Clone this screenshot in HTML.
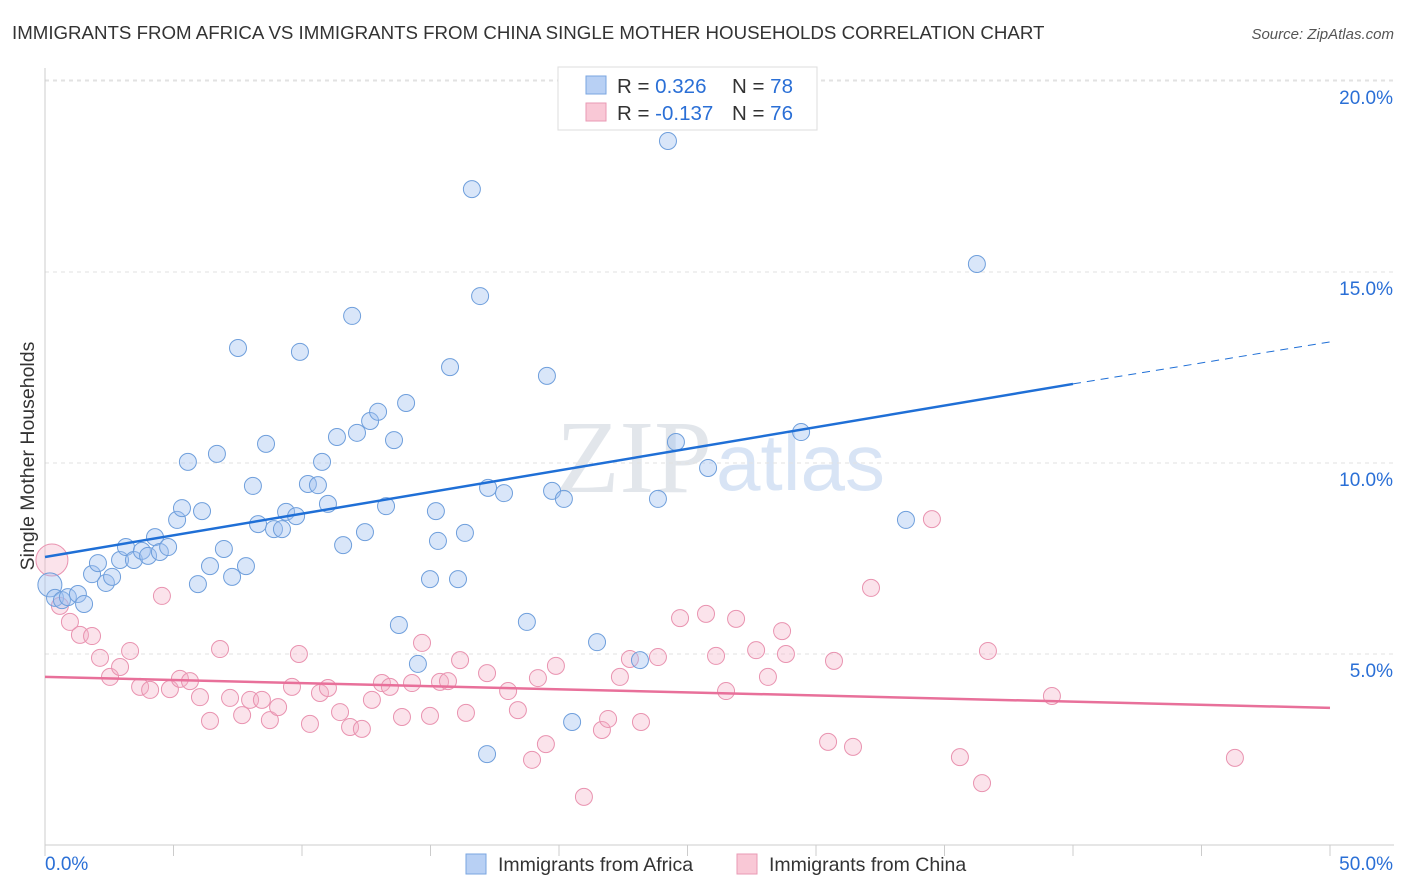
<!DOCTYPE html>
<html><head><meta charset="utf-8">
<style>
body{margin:0;background:#fff;font-family:"Liberation Sans",sans-serif;}
#wrap{position:relative;width:1406px;height:892px;overflow:hidden;}
</style></head>
<body>
<div id="wrap">
<svg id="chart" width="1406" height="892" xmlns="http://www.w3.org/2000/svg">
<text x="12" y="39" font-size="18.7" fill="#333">IMMIGRANTS FROM AFRICA VS IMMIGRANTS FROM CHINA SINGLE MOTHER HOUSEHOLDS CORRELATION CHART</text>
<text x="1394" y="39" font-size="15" fill="#555" font-style="italic" text-anchor="end">Source: ZipAtlas.com</text>
<text x="556" y="492" font-size="104" fill="#ccd3dc" font-family="Liberation Serif,serif" opacity="0.55">ZIP</text>
<text x="716" y="490" font-size="80" fill="#b9cfee" opacity="0.55">atlas</text>
<g id="grid"></g>
<g id="axes"></g>
<g id="marks"></g>
<text transform="translate(34,456) rotate(-90)" font-size="19.5" fill="#333" text-anchor="middle">Single Mother Households</text>
<g>
<rect x="558" y="67" width="259" height="63" fill="#fff" stroke="#ddd"/>
<rect x="586" y="76" width="20" height="18" fill="#b8d0f4" stroke="#7aa6e0"/>
<rect x="586" y="103" width="20" height="18" fill="#f9c8d6" stroke="#e99ab4"/>
<text x="617" y="93" font-size="20.5" fill="#333">R = <tspan fill="#2a6fd6">0.326</tspan><tspan x="732">N = </tspan><tspan fill="#2a6fd6">78</tspan></text>
<text x="617" y="120" font-size="20.5" fill="#333">R = <tspan fill="#2a6fd6">-0.137</tspan><tspan x="732">N = </tspan><tspan fill="#2a6fd6">76</tspan></text>
</g>
<g>
<rect x="466" y="854" width="20" height="20" fill="#b8d0f4" stroke="#7aa6e0"/>
<text x="498" y="871" font-size="19.5" fill="#333">Immigrants from Africa</text>
<rect x="737" y="854" width="20" height="20" fill="#f9c8d6" stroke="#e99ab4"/>
<text x="769" y="871" font-size="19.5" fill="#333">Immigrants from China</text>
</g>
</svg>
</div>
<script>
const africaX=[0.19,0.39,0.66,0.89,1.28,1.52,1.83,2.06,2.37,2.61,2.92,3.15,3.46,3.77,4.01,4.28,4.47,4.79,5.14,5.33,5.56,6.11,5.95,6.42,6.69,6.96,7.28,7.51,7.82,8.09,8.29,8.60,8.91,9.22,9.38,9.77,9.92,10.23,10.62,10.78,11.01,11.36,11.60,11.95,12.14,12.45,12.65,12.96,13.27,13.58,13.77,14.05,14.51,14.98,15.21,15.29,15.76,16.07,16.34,16.61,16.93,17.24,17.20,17.86,18.75,19.53,19.73,20.19,20.51,21.48,23.15,23.85,24.24,24.55,25.80,29.42,33.50,36.26];
const africaY=[6.81,6.47,6.41,6.49,6.57,6.31,7.09,7.38,6.86,7.02,7.46,7.80,7.46,7.70,7.57,8.06,7.67,7.80,8.51,8.82,10.03,8.74,6.83,7.30,10.24,7.75,7.02,13.01,7.30,9.40,8.40,10.50,8.27,8.27,8.72,8.61,12.91,9.45,9.42,10.03,8.93,10.68,7.85,13.85,10.79,8.19,11.10,11.34,8.87,10.60,5.76,11.57,4.74,6.96,8.74,7.96,12.51,6.96,8.17,17.17,14.37,9.35,2.38,9.21,5.84,12.28,9.27,9.06,3.22,5.31,4.84,9.06,18.43,10.55,9.87,10.81,8.51,15.21];
const chinaX=[0.27,0.58,0.97,1.36,1.83,2.14,2.53,2.92,3.31,3.70,4.09,4.55,4.86,5.25,5.64,6.03,6.42,6.81,7.20,7.67,7.98,8.44,8.75,9.07,9.61,9.88,10.31,10.70,11.01,11.48,11.87,12.33,12.72,13.11,13.42,13.89,14.28,14.67,14.98,15.37,15.68,16.15,16.38,17.20,18.02,18.40,18.95,19.18,19.49,19.88,20.97,21.67,21.91,22.37,22.76,23.19,23.85,24.71,25.72,26.11,26.50,26.89,27.67,28.13,28.68,28.83,30.47,30.70,31.44,32.14,34.51,35.60,36.46,36.69,39.18,46.30];
const chinaY=[7.46,6.26,5.84,5.50,5.47,4.90,4.40,4.66,5.08,4.14,4.06,6.52,4.08,4.35,4.29,3.87,3.25,5.13,3.85,3.40,3.80,3.80,3.27,3.61,4.14,5.00,3.17,3.98,4.11,3.48,3.09,3.04,3.80,4.24,4.14,3.35,4.24,5.29,3.38,4.27,4.29,4.84,3.46,4.50,4.03,3.53,2.23,4.37,2.64,4.69,1.26,3.01,3.30,4.40,4.87,3.22,4.92,5.94,6.05,4.95,4.03,5.92,5.10,4.40,5.60,5.00,2.70,4.82,2.57,6.73,8.53,2.30,1.62,5.08,3.90,2.28];
const africaTrend=[7.54,12.07,13.17];
const trendX=[0,40,50];
const chinaTrend=[4.40,3.59];
const yTicks=[5,10,15,20];
const yTickLabels=["5.0%","10.0%","15.0%","20.0%"];
const xTicks=[0,5,10,15,20,25,30,35,40,45,50];

const NS="http://www.w3.org/2000/svg";
const X0=45,X1=1330,YB=845,PXPER=38.2;
function sx(v){return X0+(v/50)*(X1-X0);}
function sy(v){return YB-v*PXPER;}
function mk(tag,attrs,parent){const e=document.createElementNS(NS,tag);for(const k in attrs)e.setAttribute(k,attrs[k]);parent.appendChild(e);return e;}
const grid=document.getElementById('grid'),axes=document.getElementById('axes'),marks=document.getElementById('marks');

yTicks.forEach((t,i)=>{
  const l=mk('line',{x1:X0,x2:1394,y1:sy(t),y2:sy(t),stroke:'#e2e2e2','stroke-dasharray':'4,4'},grid);
  
  
  const tx=mk('text',{x:1393,y:sy(t)+23,'font-size':19,fill:'#2a6fd6','text-anchor':'end'},axes);
  tx.textContent=yTickLabels[i];
  
  
});
const tl=mk('line',{x1:X0,x2:1394,y1:80,y2:80,stroke:'#e2e2e2','stroke-dasharray':'4,4'},grid);


const ya=mk('line',{x1:X0,x2:X0,y1:68,y2:YB,stroke:'#ccc'},axes);


const xa=mk('line',{x1:X0,x2:1394,y1:YB,y2:YB,stroke:'#ccc'},axes);


xTicks.forEach(t=>{
  const l=mk('line',{x1:sx(t),x2:sx(t),y1:YB,y2:YB+11,stroke:'#ccc'},axes);
  
  
});
const xl0=mk('text',{x:45,y:870,'font-size':19,fill:'#2a6fd6'},axes);xl0.textContent='0.0%';


const xl1=mk('text',{x:1393,y:870,'font-size':19,fill:'#2a6fd6','text-anchor':'end'},axes);xl1.textContent='50.0%';



chinaX.forEach((x,i)=>{
  const c=mk('circle',{cx:sx(x),cy:sy(chinaY[i]),r:i===0?16:8.5,fill:'rgba(244,176,198,0.35)',stroke:'#e993b0','stroke-width':1},marks);
  
  
});
africaX.forEach((x,i)=>{
  const c=mk('circle',{cx:sx(x),cy:sy(africaY[i]),r:i===0?12:8.5,fill:'rgba(160,192,240,0.4)',stroke:'#6f9fdc','stroke-width':1},marks);
  
  
});
const bt=mk('line',{x1:sx(trendX[0]),y1:sy(africaTrend[0]),x2:sx(trendX[1]),y2:sy(africaTrend[1]),stroke:'#1f6fd6','stroke-width':2.5},marks);


const bd=mk('line',{x1:sx(trendX[1]),y1:sy(africaTrend[1]),x2:sx(trendX[2]),y2:sy(africaTrend[2]),stroke:'#1f6fd6','stroke-width':1,'stroke-dasharray':'8,6'},marks);


const pt=mk('line',{x1:sx(0),y1:sy(chinaTrend[0]),x2:sx(50),y2:sy(chinaTrend[1]),stroke:'#e8709a','stroke-width':2.5},marks);


</script>
</body></html>
